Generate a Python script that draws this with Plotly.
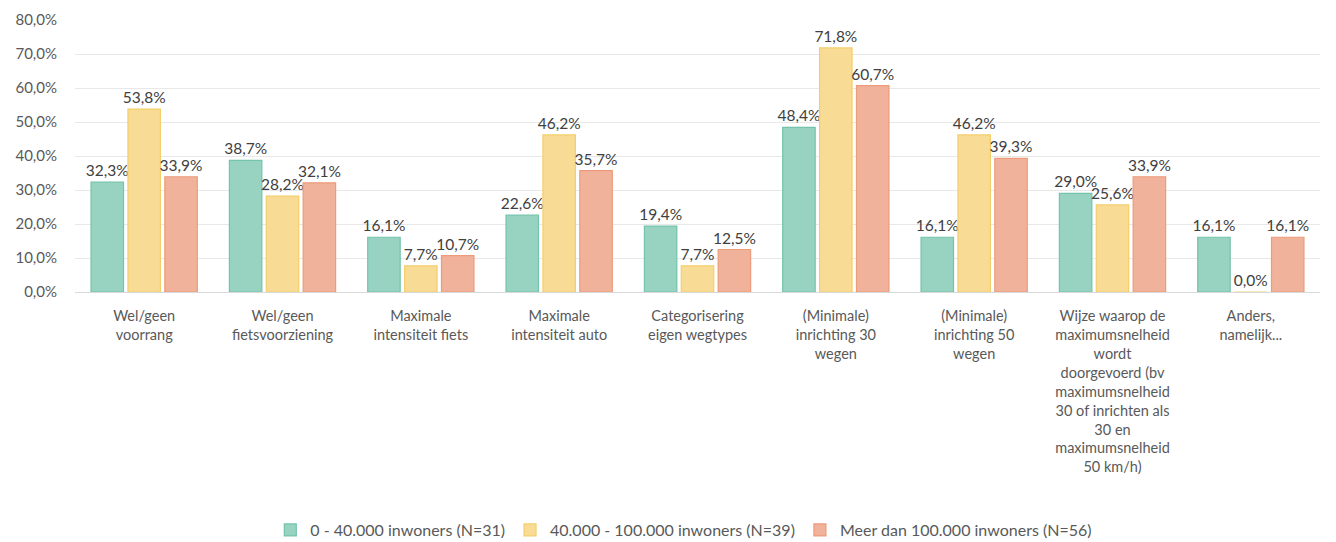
import plotly.graph_objects as go

categories = [
    "Wel/geen<br>voorrang",
    "Wel/geen<br>fietsvoorziening",
    "Maximale<br>intensiteit fiets",
    "Maximale<br>intensiteit auto",
    "Categorisering<br>eigen wegtypes",
    "(Minimale)<br>inrichting 30<br>wegen",
    "(Minimale)<br>inrichting 50<br>wegen",
    "Wijze waarop de<br>maximumsnelheid<br>wordt<br>doorgevoerd (bv<br>maximumsnelheid<br>30 of inrichten als<br>30 en<br>maximumsnelheid<br>50 km/h)",
    "Anders,<br>namelijk...",
]
series_names = [
    "0 - 40.000 inwoners (N=31)",
    "40.000 - 100.000 inwoners (N=39)",
    "Meer dan 100.000 inwoners (N=56)",
]
small = [32.3, 38.7, 16.1, 22.6, 19.4, 48.4, 16.1, 29.0, 16.1]
medium = [53.8, 28.2, 7.7, 46.2, 7.7, 71.8, 46.2, 25.6, 0.0]
large = [33.9, 32.1, 10.7, 35.7, 12.5, 60.7, 39.3, 33.9, 16.1]
yticks = [0, 10, 20, 30, 40, 50, 60, 70, 80]

fills = ["#98d3c2", "#f8dc96", "#f0b29a"]
lines = ["#74c3ab", "#f4ce6c", "#ec9b7b"]

fig = go.Figure()
for name, vals, fc, lc in zip(series_names, [small, medium, large], fills, lines):
    fig.add_trace(go.Bar(
        x=categories, y=vals, name=name,
        marker=dict(color=fc, line=dict(color=lc, width=1.2)),
        text=[f"{v:.1f}%".replace(".", ",") for v in vals],
        textposition="outside", constraintext="none", cliponaxis=False,
        textfont=dict(size=15.5, color="#404040"),
    ))

fig.update_layout(
    width=1328, height=534,
    paper_bgcolor="white", plot_bgcolor="white",
    font=dict(family="Lato, Liberation Sans, sans-serif", size=14, color="#595959"),
    margin=dict(l=67, r=16, t=12, b=250, autoexpand=False),
    barmode="group", bargap=0.2, bargroupgap=0.12,
    showlegend=True,
    legend=dict(orientation="h", x=0.489, xanchor="center", y=-0.875, yanchor="middle",
                font=dict(size=16, color="#595959"), itemwidth=30, tracegroupgap=0),
    xaxis=dict(showline=True, linecolor="#d9d9d9", tickfont=dict(size=14.5, color="#595959"),
               ticks="", tickangle=0, automargin=False, ticklabelstandoff=11),
    yaxis=dict(range=[0, 80], tickvals=yticks,
               ticktext=[f"{v:.1f}%".replace(".", ",") for v in yticks],
               showgrid=True, gridcolor="#e8e8e8", zeroline=False,
               tickfont=dict(size=15, color="#595959"), automargin=False, ticklabelstandoff=17),
)

fig.write_html("out.html")
